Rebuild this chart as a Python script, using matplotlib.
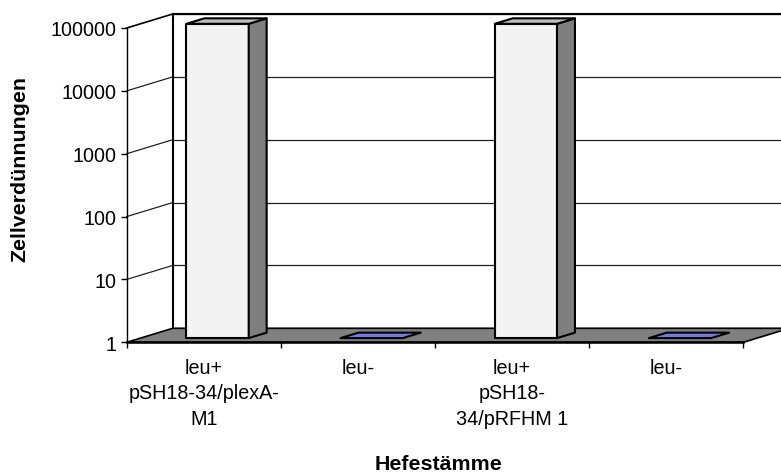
import matplotlib
matplotlib.use('Agg')
import matplotlib.pyplot as plt
from matplotlib.patches import Polygon
from matplotlib.lines import Line2D
from matplotlib.ticker import NullLocator, FixedLocator
import numpy as np

plt.rcParams['font.family'] = ['Liberation Sans', 'DejaVu Sans']

# ---- data ----
categories = ['leu+\npSH18-34/plexA-\nM1', 'leu-', 'leu+\npSH18-\n34/pRFHM 1', 'leu-']
values = [100000, 1, 100000, 1]
yticks = [1, 10, 100, 1000, 10000, 100000]
ytick_labels = ['1', '10', '100', '1000', '10000', '100000']
y_title = 'Zellverdünnungen'
x_title = 'Hefestämme'

# ---- styles ----
bar_front_colors = ['#F3F3F3', '#7878D8', '#F3F3F3', '#7878D8']
side_color = '#7F7F7F'
top_color = '#BEBEBE'
floor_color = '#808080'
FS = 14.2
TFS = 15.4

W, H, DPI = 781, 477, 100
fig = plt.figure(figsize=(W / DPI, H / DPI), dpi=DPI)

fx0, fx1 = 126.7, 743.3          # front plane pixel x
fy_top, fy_bot = 29.0, 343.3     # front plane pixel y (from top)
DX, DY = 46.0, 14.0              # depth offset in px (right, up)


def rect(x0, x1, ytop, ybot):
    return [x0 / W, 1 - ybot / H, (x1 - x0) / W, (ybot - ytop) / H]


n = len(categories)

# back wall
axb = fig.add_axes(rect(fx0 + DX, fx1 + DX, fy_top - DY, fy_bot - DY))
axb.set_yscale('log')
axb.set_xlim(0, n)
axb.set_ylim(1, 100000)
axb.yaxis.set_major_locator(FixedLocator(yticks))
axb.yaxis.set_minor_locator(NullLocator())
axb.set_xticks([])
axb.tick_params(axis='y', length=0, labelleft=False)
axb.grid(axis='y', color='#222222', linewidth=0.9)
for s in ['right', 'bottom']:
    axb.spines[s].set_visible(False)
for s in ['left', 'top']:
    axb.spines[s].set_linewidth(1.5)
axb.set_facecolor('white')

# front plane
ax = fig.add_axes(rect(fx0, fx1, fy_top, fy_bot))
ax.set_facecolor('none')
ax.set_yscale('log')
ax.set_xlim(0, n)
ax.set_ylim(1, 100000)
ax.yaxis.set_major_locator(FixedLocator(yticks))
ax.yaxis.set_minor_locator(NullLocator())
ax.set_yticklabels(ytick_labels, fontsize=FS)
ax.tick_params(axis='y', direction='out', length=4.3, width=1, pad=3)
ax.set_xticks(np.arange(n + 1))
ax.set_xticklabels([])
ax.set_xticks(np.arange(n) + 0.5, minor=True)
ax.set_xticklabels(categories, minor=True, fontsize=FS, linespacing=1.45)
ax.tick_params(axis='x', which='major', direction='out', length=4.3, width=1)
ax.tick_params(axis='x', which='minor', length=0, pad=11)
ax.spines['top'].set_visible(False)
ax.spines['right'].set_visible(False)
ax.spines['left'].set_linewidth(1.0)
ax.spines['bottom'].set_linewidth(1.8)
ax.spines['bottom'].set_zorder(5)

inv = fig.transFigure.inverted()


def P(x, v, d):
    p = ax.transData.transform((x, v))
    return p + d * np.array([DX, DY])


def poly(pts, fc, z, lw=1.5):
    pts = inv.transform(np.array(pts))
    pg = Polygon(pts, closed=True, facecolor=fc, edgecolor='black',
                 linewidth=lw, joinstyle='round', transform=fig.transFigure,
                 clip_on=False, zorder=z)
    ax.add_artist(pg)


def line(p0, p1, z, lw=0.9, c='#222222'):
    pts = inv.transform(np.array([p0, p1]))
    ln = Line2D(pts[:, 0], pts[:, 1], color=c, linewidth=lw,
                transform=fig.transFigure, clip_on=False, zorder=z)
    ax.add_artist(ln)


# side wall diagonals
for v in yticks[1:]:
    line(P(0, v, 0), P(0, v, 1), 1, lw=1.2 if v == yticks[-1] else 0.9,
         c='black' if v == yticks[-1] else '#222222')

# floor
poly([P(0, 1, 0), P(n, 1, 0), P(n, 1, 1), P(0, 1, 1)], floor_color, 1.2, lw=1.2)

# bars
bw = 0.404
d0, d1 = 0.30, 0.69
for i, v in enumerate(values):
    xl, xr = i + 0.5 - bw / 2, i + 0.5 + bw / 2
    z = 2 + i * 0.01
    if v > 1:
        poly([P(xl, 1, d0), P(xr, 1, d0), P(xr, v, d0), P(xl, v, d0)],
             bar_front_colors[i], z)
        poly([P(xr, 1, d0), P(xr, 1, d1), P(xr, v, d1), P(xr, v, d0)],
             side_color, z)
        poly([P(xl, v, d0), P(xr, v, d0), P(xr, v, d1), P(xl, v, d1)],
             top_color, z)
    else:
        poly([P(xl, v, d0), P(xr, v, d0), P(xr, v, d1), P(xl, v, d1)],
             bar_front_colors[i], z)

fig.text(20 / W, 1 - 169 / H, y_title, rotation=90, ha='center', va='center',
         fontsize=TFS, fontweight='bold')
fig.text(438 / W, 1 - 465 / H, x_title, ha='center', va='center',
         fontsize=TFS, fontweight='bold')

fig.savefig('out.png', dpi=DPI, facecolor='white')
